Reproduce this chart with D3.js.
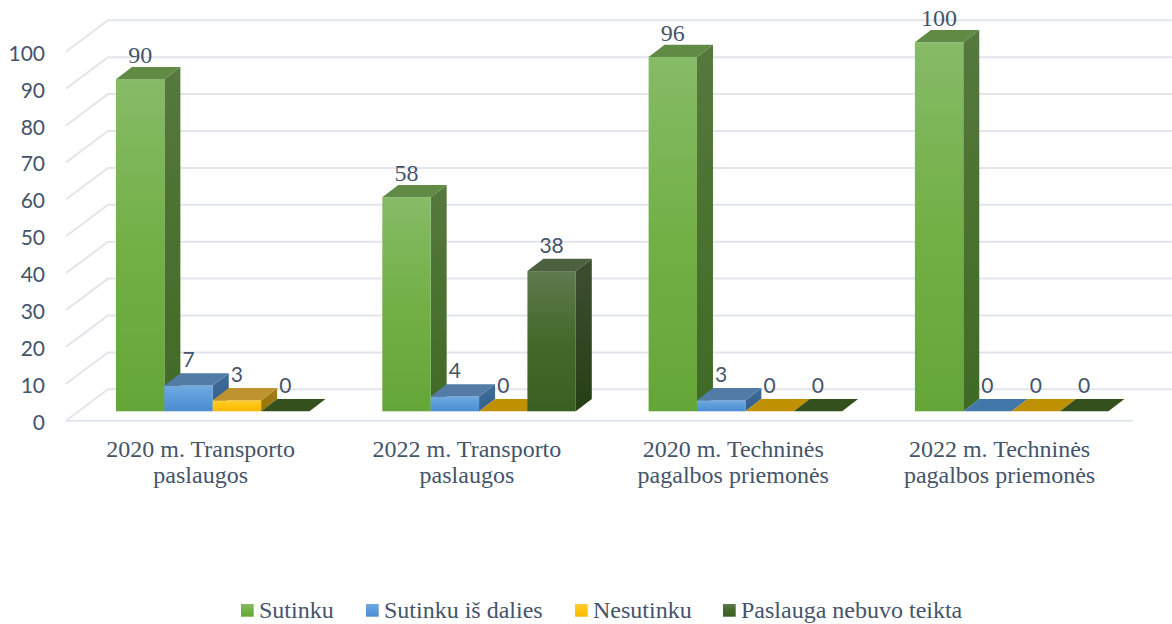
<!DOCTYPE html>
<html><head><meta charset="utf-8">
<style>html,body{margin:0;padding:0;background:#fff;overflow:hidden}svg{display:block}</style>
<script src="https://cdnjs.cloudflare.com/ajax/libs/d3/7.8.5/d3.min.js"></script>
</head><body><svg id="c" width="1172" height="624"></svg>
<script>
const categories = ["2020 m. Transporto paslaugos","2022 m. Transporto paslaugos","2020 m. Techninės pagalbos priemonės","2022 m. Techninės pagalbos priemonės"];
const categoryLines = [["2020 m. Transporto","paslaugos"],["2022 m. Transporto","paslaugos"],["2020 m. Techninės","pagalbos priemonės"],["2022 m. Techninės","pagalbos priemonės"]];
const seriesNames = ["Sutinku","Sutinku iš dalies","Nesutinku","Paslauga nebuvo teikta"];
const sutinku = [90,58,96,100];
const sutinkuIsDalies = [7,4,3,0];
const nesutinku = [3,0,0,0];
const nebuvoTeikta = [0,38,0,0];
const seriesValues = [sutinku,sutinkuIsDalies,nesutinku,nebuvoTeikta];
const tickValues = [0,10,20,30,40,50,60,70,80,90,100];
const fronts = [["#86BB67","#72B046","#65A638"],["#70AAE0","#5A9BDA","#4A8DCF"],["#FFCC33","#FFC310","#F5BA00"],["#5F7A4F","#43692A","#3A5F22"]];
const sides = [["#56793D","#3F6A24"],["#3F6C98","#325F8C"],["#A6801A","#957205"],["#3D4E31","#263F15"]];
const tops = ["#618A45","#527CA6","#BF9430","#4C6140"];
const floors = ["#618A45","#4277A9","#BF9000","#33501D"];
const inkColor = "#44546A", gridColor = "#E2E5EC";
const serif = "'Liberation Serif','Times New Roman',serif", sans = "Lato,'Open Sans',sans-serif";

const svg = d3.select("#c");
const y = d3.scaleLinear().domain([0,100]).range([411.3,42.3]);
const gx = d3.scaleBand().domain(categories).range([67.5,1132.7]);
const sx = d3.scaleBand().domain(seriesNames).range([48.5,242]);
const floorY = 420.7, wallDx = 42, wallDy = -31.4, barDx = 16, barDy = -12.3;
const defs = svg.append("defs");
seriesNames.forEach((s,i)=>{
  const g = defs.append("linearGradient").attr("id","f"+i).attr("x1",0).attr("x2",0).attr("y1",0).attr("y2",1);
  fronts[i].forEach((c,k)=>g.append("stop").attr("offset",k/2).attr("stop-color",c));
  const h = defs.append("linearGradient").attr("id","s"+i).attr("x1",0).attr("x2",0).attr("y1",0).attr("y2",1);
  sides[i].forEach((c,k)=>h.append("stop").attr("offset",k).attr("stop-color",c));
});
const fy = v => floorY - (floorY - y(100) - 9.4) * v / 100;
const grid = svg.append("g").attr("fill","none").attr("stroke",gridColor).attr("stroke-width",2);
tickValues.forEach(v=>{
  grid.append("path").attr("d",`M66,${fy(v)}L${66+wallDx},${fy(v)+wallDy}L1172,${fy(v)+wallDy}`);
});
grid.append("line").attr("x1",66).attr("x2",1133).attr("y1",floorY).attr("y2",floorY);

const axis = svg.append("g").attr("transform","translate(45,0)")
  .call(d3.axisLeft(d3.scaleLinear().domain([0,100]).range([fy(0),fy(100)])).tickValues(tickValues).tickSize(0).tickPadding(0));
axis.select(".domain").remove();
axis.selectAll("text").attr("font-family",sans).attr("font-size",21).attr("fill",inkColor).attr("dy",0).attr("y",8.5).attr("text-anchor","end");

categories.forEach((c,ci)=>{
  seriesNames.forEach((s,si)=>{
    const v = seriesValues[si][ci];
    const x0 = gx(c)+sx(s), x1 = x0+sx.bandwidth(), yt = y(v), yb = y(0);
    const g = svg.append("g");
    if(v>0){
      g.append("path").attr("d",`M${x1},${yt}L${x1+barDx},${yt+barDy}L${x1+barDx},${yb+barDy}L${x1},${yb}Z`).attr("fill",`url(#s${si})`);
      g.append("rect").attr("x",x0).attr("y",yt).attr("width",sx.bandwidth()).attr("height",yb-yt).attr("fill",`url(#f${si})`);
    }
    g.append("path").attr("d",`M${x0},${yt}L${x0+barDx},${yt+barDy}L${x1+barDx},${yt+barDy}L${x1},${yt}Z`).attr("fill",v>0?tops[si]:floors[si]);
  });
});
categories.forEach((c,ci)=>{
  seriesNames.forEach((s,si)=>{
    const v = seriesValues[si][ci];
    svg.append("text").attr("x",gx(c)+sx(s)+sx.bandwidth()/2).attr("y",y(v)-(si===0?16:18.5))
      .attr("text-anchor","middle").attr("font-family",si===0?serif:sans).attr("font-size",si===0?24:21)
      .attr("fill",inkColor).text(v);
  });
  const t = svg.append("text").attr("text-anchor","middle").attr("font-family",serif).attr("font-size",24).attr("fill",inkColor);
  categoryLines[ci].forEach((l,k)=>t.append("tspan").attr("x",gx(c)+gx.bandwidth()/2).attr("y",456.7+k*26.6).text(l));
});
const legendX = [241,366,575,723];
seriesNames.forEach((s,i)=>{
  svg.append("rect").attr("x",legendX[i]).attr("y",604).attr("width",12.7).attr("height",12.7).attr("fill",`url(#f${i})`);
  svg.append("text").attr("x",legendX[i]+18).attr("y",617.5).attr("font-family",serif).attr("font-size",24).attr("fill",inkColor).text(s);
});
</script></body></html>
